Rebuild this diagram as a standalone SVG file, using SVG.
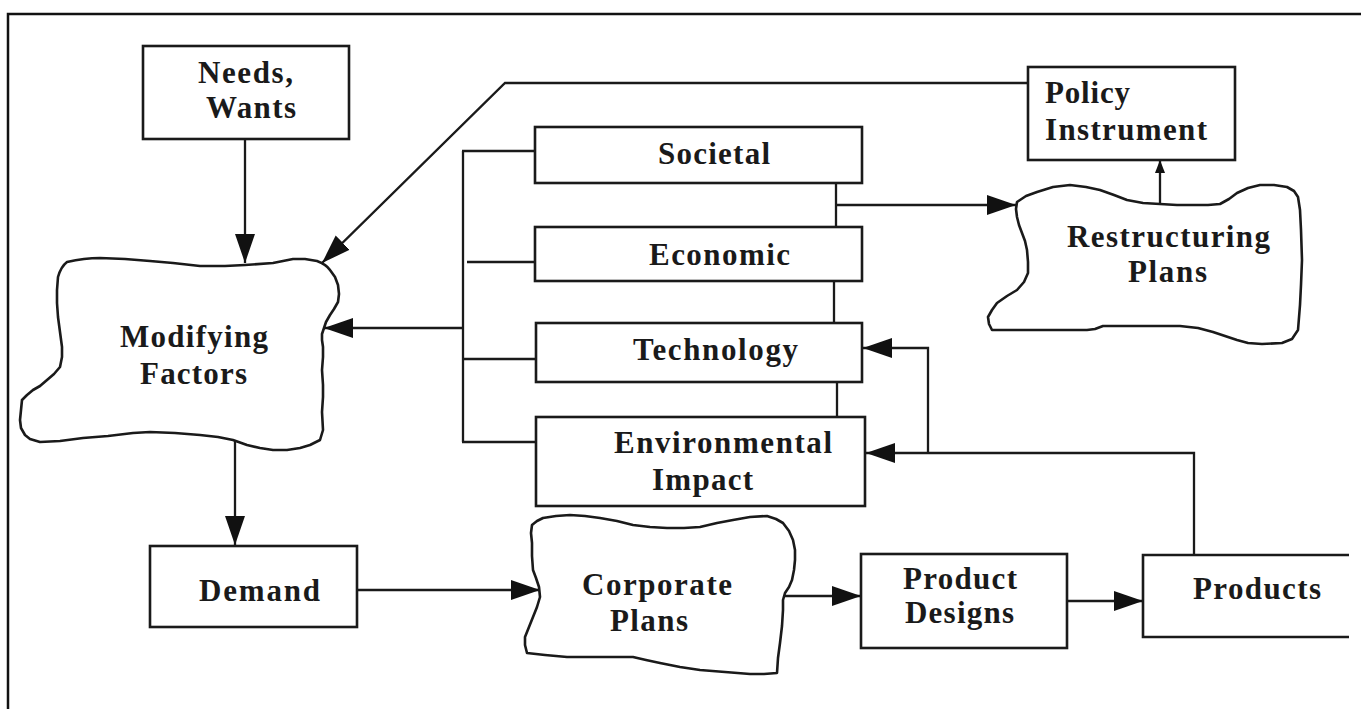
<svg xmlns="http://www.w3.org/2000/svg" width="1361" height="709" viewBox="0 0 1361 709">
  <style>
    .frame { fill: none; stroke: #111; stroke-width: 2.5; }
    .box { fill: #fff; stroke: #1a1a1a; stroke-width: 2.6; }
    .cloud { fill: #fff; stroke: #1a1a1a; stroke-width: 2.6; stroke-linejoin: round; }
    .wire { fill: none; stroke: #1a1a1a; stroke-width: 2.3; }
    .lbl { font-family: "Liberation Serif", "Times New Roman", serif; font-weight: bold; font-size: 31px; fill: #1a1a1a; }
  </style>
  <defs>
    <marker id="head" markerUnits="userSpaceOnUse" markerWidth="30" markerHeight="22" refX="29" refY="11" orient="auto">
      <path d="M0,1 L29,11 L0,21 Z" fill="#111"/>
    </marker>
    <marker id="headSmall" markerUnits="userSpaceOnUse" markerWidth="14" markerHeight="12" refX="13" refY="6" orient="auto">
      <path d="M0,1 L13,6 L0,11 Z" fill="#111"/>
    </marker>
  </defs>

  <rect width="1361" height="709" fill="#fff"/>

  <!-- outer frame (top and left edges) -->
  <path class="frame" d="M8,709 V14 H1361"/>

  <!-- connectors -->
  <g id="connectors">
    <line class="wire" x1="245" y1="139" x2="245" y2="263" marker-end="url(#head)"/>
    <polyline class="wire" points="1028,83 505,83 322,263" marker-end="url(#head)"/>
    <!-- bus joining the four factor boxes -->
    <line class="wire" x1="463" y1="151" x2="463" y2="442"/>
    <line class="wire" x1="462" y1="151" x2="535" y2="151"/>
    <line class="wire" x1="467" y1="262" x2="535" y2="262"/>
    <line class="wire" x1="462" y1="359" x2="536" y2="359"/>
    <line class="wire" x1="462" y1="442" x2="536" y2="442"/>
    <line class="wire" x1="463" y1="328" x2="324" y2="328" marker-end="url(#head)"/>
    <!-- right-hand spine between the factor boxes -->
    <line class="wire" x1="836" y1="183" x2="836" y2="227"/>
    <line class="wire" x1="834" y1="281" x2="834" y2="323"/>
    <line class="wire" x1="837" y1="382" x2="837" y2="417"/>
    <line class="wire" x1="836" y1="205" x2="1016" y2="205" marker-end="url(#head)"/>
    <line class="wire" x1="1160" y1="204" x2="1160" y2="160" marker-end="url(#headSmall)"/>
    <line class="wire" x1="235" y1="441" x2="235" y2="545" marker-end="url(#head)"/>
    <line class="wire" x1="357" y1="590" x2="540" y2="590" marker-end="url(#head)"/>
    <line class="wire" x1="785" y1="596" x2="861" y2="596" marker-end="url(#head)"/>
    <line class="wire" x1="1067" y1="601" x2="1143" y2="601" marker-end="url(#head)"/>
    <polyline class="wire" points="1194,555 1194,453 866,453" marker-end="url(#head)"/>
    <polyline class="wire" points="928,453 928,348 863,348" marker-end="url(#head)"/>
  </g>

  <g id="needs-wants">
    <rect class="box" x="143" y="46" width="206" height="93"/>
    <text class="lbl" x="198" y="83" textLength="95" lengthAdjust="spacing">Needs,</text>
    <text class="lbl" x="206" y="118" textLength="90" lengthAdjust="spacing">Wants</text>
  </g>

  <g id="modifying-factors">
    <path class="cloud" d="M67,262 C80,259 92,258 100,258 L125,259 L150,261 L173,263 L200,266 L225,266 L245,265 L273,263 L293,259 L305,259 L317,261 C325,264 328,267 330,270 L335,277 L338,285 L339,294 L338,302 L334,309 L330,315 L326,322 L324,328 L322,334 L322,340 L323,347 L323,357 L322,370 L323,385 L323,397 L322,412 L323,430 L320,440 L310,445 L300,448 L287,450 L273,450 L260,448 L247,445 L233,440 L218,437 L200,435 L175,433 L150,432 L133,433 L108,436 L83,438 L60,441 L40,442 L30,439 L25,435 L21,428 L20,420 L21,410 L22,400 L27,395 L33,390 L40,386 L47,380 L54,374 L60,367 L62,357 L62,347 L60,332 L58,317 L57,303 L57,290 L58,277 C60,270 63,265 67,262 Z"/>
    <text class="lbl" x="120" y="347" textLength="148" lengthAdjust="spacing">Modifying</text>
    <text class="lbl" x="140" y="384" textLength="107" lengthAdjust="spacing">Factors</text>
  </g>

  <g id="societal">
    <rect class="box" x="535" y="127" width="327" height="56"/>
    <text class="lbl" x="658" y="164" textLength="112" lengthAdjust="spacing">Societal</text>
  </g>

  <g id="economic">
    <rect class="box" x="535" y="227" width="327" height="54"/>
    <text class="lbl" x="649" y="265" textLength="141" lengthAdjust="spacing">Economic</text>
  </g>

  <g id="technology">
    <rect class="box" x="536" y="323" width="326" height="59"/>
    <text class="lbl" x="633" y="360" textLength="165" lengthAdjust="spacing">Technology</text>
  </g>

  <g id="environmental-impact">
    <rect class="box" x="536" y="417" width="329" height="89"/>
    <text class="lbl" x="614" y="453" textLength="218" lengthAdjust="spacing">Environmental</text>
    <text class="lbl" x="652" y="490" textLength="101" lengthAdjust="spacing">Impact</text>
  </g>

  <g id="policy-instrument">
    <rect class="box" x="1028" y="67" width="207" height="93"/>
    <text class="lbl" x="1045" y="103" textLength="85" lengthAdjust="spacing">Policy</text>
    <text class="lbl" x="1045" y="140" textLength="162" lengthAdjust="spacing">Instrument</text>
  </g>

  <g id="restructuring-plans">
    <path class="cloud" d="M1017,202 L1026,196 L1037,192 L1053,187 L1070,185 L1086,187 L1100,190 L1114,195 L1127,200 L1143,203 L1160,204 L1177,205 L1193,205 L1208,205 L1220,204 L1229,199 L1237,193 L1248,188 L1260,185 L1274,185 L1287,187 L1294,191 L1298,197 L1300,210 L1301,230 L1302,260 L1301,285 L1300,305 L1298,330 L1292,339 L1282,343 L1262,344 L1248,343 L1237,340 L1225,336 L1213,332 L1198,328 L1180,326 L1142,326 L1103,326 L1095,329 L1087,330 L1040,330 L1010,330 L992,330 L989,324 L988,317 L992,310 L997,303 L1007,296 L1017,290 L1024,282 L1028,273 L1028,262 L1027,250 L1025,241 L1022,233 L1019,225 L1017,217 L1016,209 Z"/>
    <text class="lbl" x="1067" y="247" textLength="203" lengthAdjust="spacing">Restructuring</text>
    <text class="lbl" x="1128" y="282" textLength="79" lengthAdjust="spacing">Plans</text>
  </g>

  <g id="demand">
    <rect class="box" x="150" y="546" width="207" height="81"/>
    <text class="lbl" x="199" y="601" textLength="121" lengthAdjust="spacing">Demand</text>
  </g>

  <g id="corporate-plans">
    <path class="cloud" d="M532,525 L537,521 L543,518 L556,516 L570,515 L585,516 L600,518 L617,521 L633,525 L650,527 L667,528 L684,528 L700,527 L717,523 L733,520 L750,517 L767,516 L776,519 L783,523 L789,531 L793,540 L795,550 L795,560 L794,570 L792,580 L789,587 L785,593 L783,600 L783,610 L782,626 L780,643 L778,658 L777,673 L764,674 L750,674 L725,672 L700,670 L680,667 L660,663 L646,660 L633,657 L600,657 L567,657 L545,655 L527,653 L525,645 L525,637 L529,627 L533,617 L537,607 L540,597 L539,587 L536,578 L533,570 L532,556 L532,543 L531,533 Z"/>
    <text class="lbl" x="582" y="595" textLength="150" lengthAdjust="spacing">Corporate</text>
    <text class="lbl" x="610" y="631" textLength="78" lengthAdjust="spacing">Plans</text>
  </g>

  <g id="product-designs">
    <rect class="box" x="861" y="554" width="206" height="94"/>
    <text class="lbl" x="903" y="589" textLength="114" lengthAdjust="spacing">Product</text>
    <text class="lbl" x="905" y="623" textLength="109" lengthAdjust="spacing">Designs</text>
  </g>

  <g id="products">
    <path class="box" d="M1349,555 H1143 V637 H1349"/>
    <text class="lbl" x="1193" y="599" textLength="128" lengthAdjust="spacing">Products</text>
  </g>
</svg>
